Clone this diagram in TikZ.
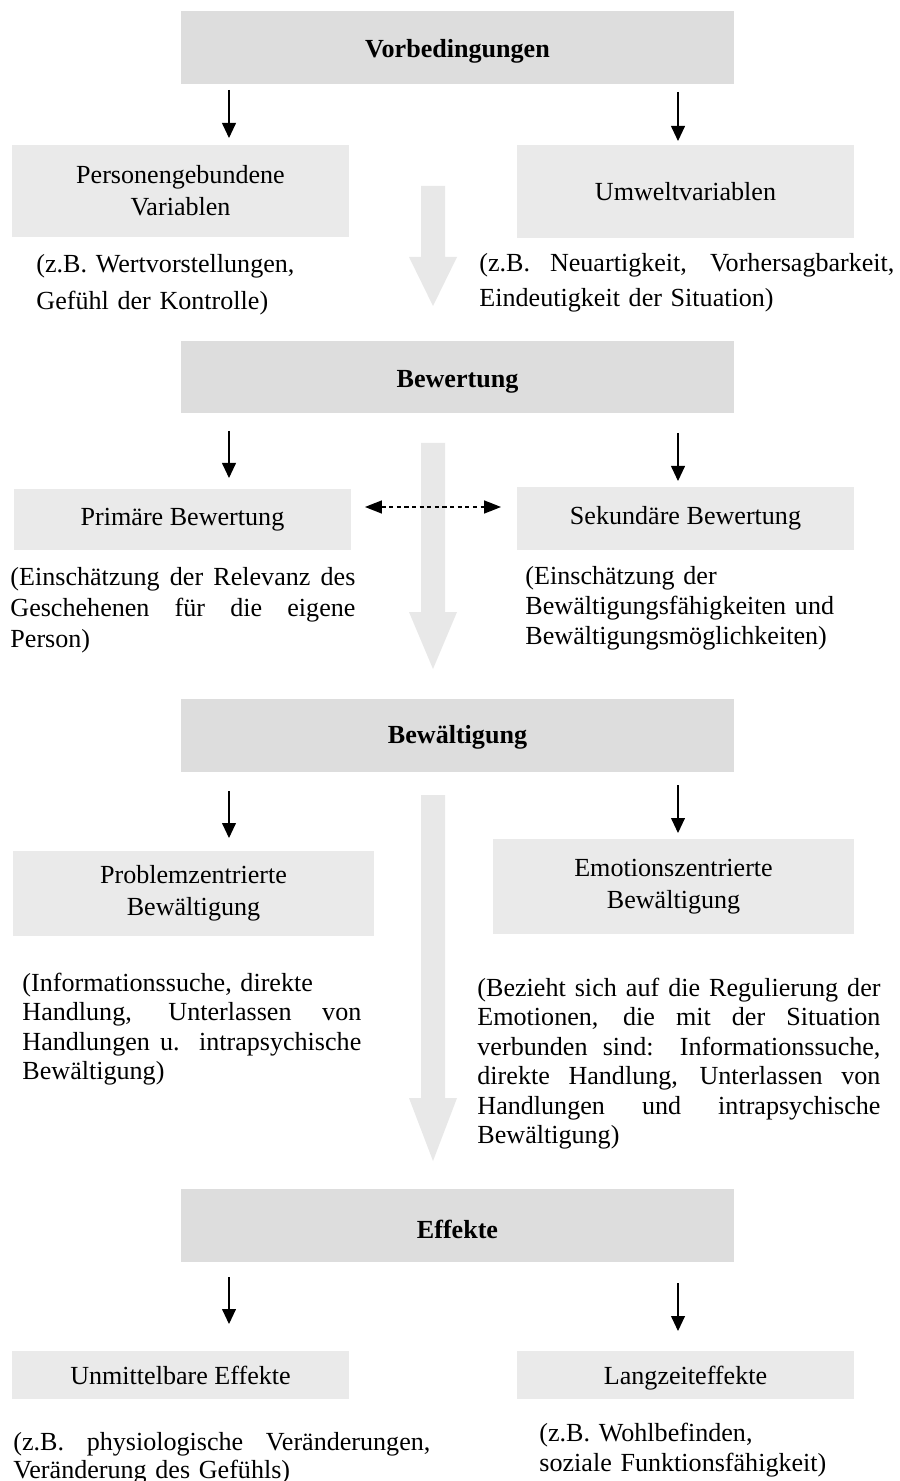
\documentclass[tikz,border=0pt]{standalone}
\usepackage{fontspec}
\setmainfont{Liberation Serif}
\usetikzlibrary{arrows.meta}
\definecolor{headgray}{HTML}{DDDDDD}
\definecolor{subgray}{HTML}{EAEAEA}
\definecolor{flowgray}{HTML}{E8E8E8}
% a line whose interword spaces stretch to the full paragraph width
% (the ragged setting of aligned nodes fixes \spaceskip, so reset it)
\newcommand\jline[1]{\makebox[\hsize][s]{\spaceskip=0pt\xspaceskip=0pt #1}}

\begin{document}
\begin{tikzpicture}[x=0.46pt,y=-0.46pt,
  headbox/.style={fill=headgray, minimum width=254.4pt, inner sep=0pt,
    text depth=0pt, text height=9pt,
    font=\fontsize{12}{14}\selectfont\bfseries},
  subbox/.style 2 args={fill=subgray, inner sep=0pt, align=center,
    minimum width=#1, minimum height=#2, font=\fontsize{12}{14.7}\selectfont},
  note/.style 2 args={anchor=base west, inner sep=0pt, align=left,
    text width=#1, font=\fontsize{12}{#2}\selectfont},
  sarrow/.style={line width=0.5pt, -{Triangle[width=6.4pt,length=6.9pt]}},
  linkarrow/.style={line width=0.65pt, dash pattern=on 1.9pt off 1.6pt,
    {Triangle[width=6pt,length=7.8pt]}-{Triangle[width=6pt,length=7.8pt]}},
  flow/.style={fill=flowgray}]

\fill[white] (0,0) rectangle (899,1481);
\useasboundingbox (0,0) rectangle (899,1481);

% broad downward flow arrows behind the boxes
\fill[flow] (421,186) -- (445,186) -- (445,257) -- (457,257) -- (433,306) -- (409,257) -- (421,257) -- cycle;
\fill[flow] (421,443) -- (445,443) -- (445,612) -- (457,612) -- (433,669) -- (409,612) -- (421,612) -- cycle;
\fill[flow] (421,795) -- (445,795) -- (445,1098) -- (457,1098) -- (433,1161) -- (409,1098) -- (421,1098) -- cycle;

% stage headings
\node[headbox, minimum height=33.6pt, text height=8.8pt] (vorb) at (457.5,47.5) {Vorbedingungen};
\node[headbox, minimum height=33.1pt, text height=9.5pt] (bew) at (457.5,377) {Bewertung};
\node[headbox, minimum height=33.6pt, text height=7.2pt] (bewa) at (457.5,735.5) {Bewältigung};
\node[headbox, minimum height=33.6pt, text height=12pt] (eff) at (457.5,1225.5) {Effekte};

% sub-categories
\node[subbox={155pt}{41.9pt}] (pers) at (180.5,191) {Personengebundene\\Variablen};
\node[subbox={155pt}{42.8pt}] (umw) at (685.5,191.5) {Umweltvariablen};
\node[subbox={155pt}{28.1pt}] (prim) at (182.5,519.5) {Primäre Bewertung};
\node[subbox={155pt}{29pt}] (sek) at (685.5,518.5) {Sekundäre Bewertung};
\node[subbox={166.1pt}{39.1pt}] (prob) at (193.5,893) {Problemzentrierte\\Bewältigung};
\node[subbox={166.1pt}{43.7pt}] (emo) at (673.5,886.5) {Emotionszentrierte\\Bewältigung};
\node[subbox={155pt}{22.1pt}] (unm) at (180.5,1375) {Unmittelbare Effekte};
\node[subbox={155pt}{22.1pt}, text depth=0pt] (lang) at (685.5,1375) {Langzeiteffekte};

% explanations
\node[note={160pt}{16.6pt}] (npers) at (36,273)
  {(z.B. Wertvorstellungen,\\ Gefühl der Kontrolle)};
\node[note={190.9pt}{16.1pt}] (numw) at (479,272)
  {\jline{(z.B. Neuartigkeit, Vorhersagbarkeit,}\\ Eindeutigkeit der Situation)};
\node[note={158.7pt}{14.3pt}] (nprim) at (10,585)
  {\jline{(Einschätzung der Relevanz des}\\ \jline{Geschehenen für die eigene}\\ Person)};
\node[note={170pt}{14pt}] (nsek) at (525,584)
  {(Einschätzung der\\ Bewältigungsfähigkeiten und\\ Bewältigungsmöglichkeiten)};
\node[note={155.9pt}{13.6pt}] (nprob) at (22,991)
  {(Informationssuche, direkte\\ \jline{Handlung, Unterlassen von}\\ \jline{Handlungen u. intrapsychische}\\ Bewältigung)};
\node[note={185.4pt}{13.6pt}] (nemo) at (477,996)
  {\jline{(Bezieht sich auf die Regulierung der}\\ \jline{Emotionen, die mit der Situation}\\ \jline{verbunden sind: Informationssuche,}\\ \jline{direkte Handlung, Unterlassen von}\\ \jline{Handlungen und intrapsychische}\\ Bewältigung)};
\node[note={191.8pt}{12.9pt}] (nunm) at (13,1450)
  {\jline{(z.B. physiologische Veränderungen,}\\ Veränderung des Gefühls)};
\node[note={170pt}{13.8pt}] (nlang) at (539,1441)
  {(z.B. Wohlbefinden,\\ soziale Funktionsfähigkeit)};

% arrow end points
\coordinate (a1) at (229,90);   \coordinate (b1) at (229,138);
\coordinate (c1) at (678,92);   \coordinate (d1) at (678,141);
\coordinate (a2) at (229,431);  \coordinate (b2) at (229,478);
\coordinate (c2) at (678,433);  \coordinate (d2) at (678,481);
\coordinate (a3) at (229,791);  \coordinate (b3) at (229,838);
\coordinate (c3) at (678,785);  \coordinate (d3) at (678,833);
\coordinate (a4) at (229,1277); \coordinate (b4) at (229,1324);
\coordinate (c4) at (678,1283); \coordinate (d4) at (678,1331);
\coordinate (lk1) at (365,507); \coordinate (lk2) at (501,507);

\draw[sarrow] (a1) -- (b1);
\draw[sarrow] (c1) -- (d1);
\draw[sarrow] (a2) -- (b2);
\draw[sarrow] (c2) -- (d2);
\draw[sarrow] (a3) -- (b3);
\draw[sarrow] (c3) -- (d3);
\draw[sarrow] (a4) -- (b4);
\draw[sarrow] (c4) -- (d4);
\draw[linkarrow] (lk1) -- (lk2);

\end{tikzpicture}
\end{document}
